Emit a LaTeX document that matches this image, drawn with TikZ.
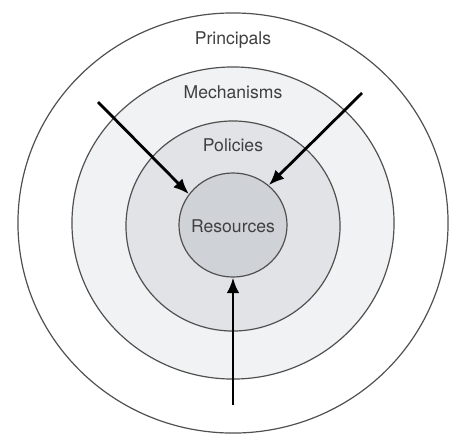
\documentclass[tikz,border=0pt]{standalone}
\usepackage{fontspec}
\setmainfont{TeX Gyre Heros}
\usepackage{tikz}
\usetikzlibrary{positioning,calc,arrows.meta,shapes.geometric}
\usepackage{xcolor}
\definecolor{ringline}{HTML}{505050}
\definecolor{ringtext}{HTML}{404040}
\definecolor{mechfill}{HTML}{F1F2F4}
\definecolor{polfill}{HTML}{E1E3E6}
\definecolor{resfill}{HTML}{CFD2D6}

\begin{document}
\begin{tikzpicture}[x=0.025cm,y=-0.025cm,
  ring/.style={ellipse,draw=ringline,line width=0.85pt,inner sep=0pt},
  lbl/.style={font=\fontsize{12.5}{14}\selectfont,text=ringtext},
  access/.style={-{Latex[length=11pt,width=9pt]},line width=2pt,black}]
\useasboundingbox (0,0) rectangle (452,435);
\node[ring,fill=white,minimum width=10.75cm,minimum height=10.5cm] (prin) at (233,223) {};
\node[ring,fill=mechfill,minimum width=8.05cm,minimum height=7.8cm] (mech) at (233,223) {};
\node[ring,fill=polfill,minimum width=5.35cm,minimum height=5.25cm] (pol) at (233,226) {};
\node[ring,fill=resfill,minimum width=2.7cm,minimum height=2.6cm] (res) at (233,225) {};
% labels
\node[lbl] (tprin) at (233,40) {Principals};
\node[lbl] (tmech) at (233,92) {Mechanisms};
\node[lbl] (tpol) at (233,145) {Policies};
\node[lbl] (tres) at (233,226) {Resources};
% requests
\coordinate (inleft) at (98,102);
\coordinate (inright) at (362,93);
\coordinate (inbottom) at (233,405);
\draw[access] (inleft) -- (res.145);
\draw[access] (inright) -- (res.48);
\draw[access] (inbottom) -- (res.south);
\end{tikzpicture}
\end{document}
